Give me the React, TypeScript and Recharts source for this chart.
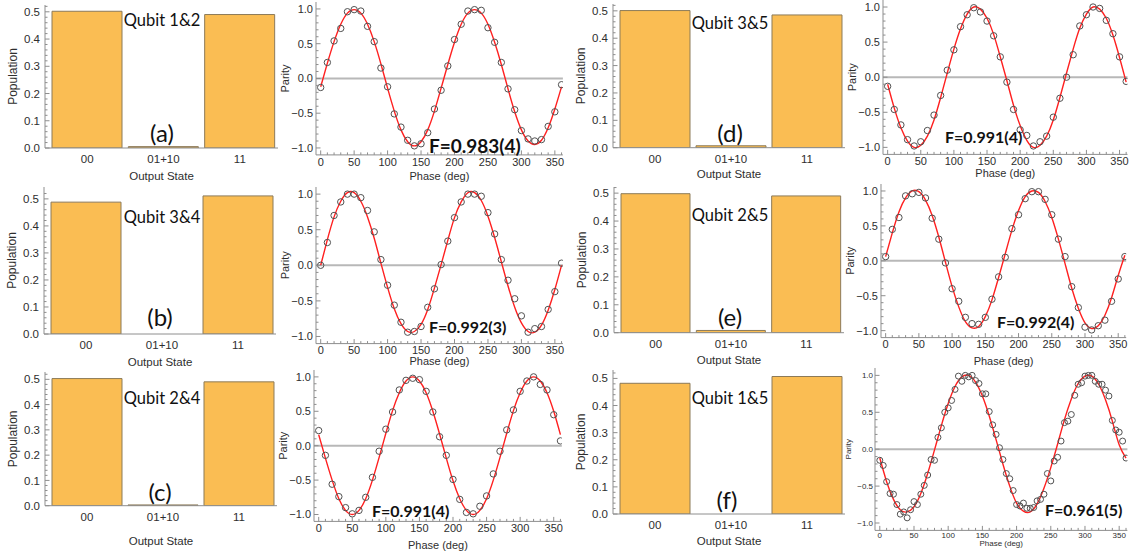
import React from 'react';
import { BarChart, Bar, ComposedChart, Line, Scatter, XAxis, YAxis, ReferenceLine } from 'recharts';

const AXIS_FONT = '"Liberation Sans", Arial, sans-serif';
const NOTE_FONT = 'Lato, "Open Sans", sans-serif';
const FRAME = '#8e8e8e';
const INK = '#2e2e2e';
const BAR_FILL = '#FABD53';
const BAR_EDGE = '#8c7a58';
const FIT_RED = '#ff2020';

// population bar charts
const STATES = ['00', '01+10', '11'];
const POP_A = [0.502, 0.005, 0.49];
const POP_B = [0.488, 0, 0.511];
const POP_C = [0.503, 0.003, 0.49];
const POP_D = [0.501, 0.007, 0.485];
const POP_E = [0.498, 0.008, 0.49];
const POP_F = [0.482, 0, 0.507];
const POP_TICKS = [0, 0.1, 0.2, 0.3, 0.4, 0.5];
const POP_MINOR = [0, 0.02, 0.04, 0.06, 0.08, 0.1, 0.12, 0.14, 0.16, 0.18, 0.2, 0.22, 0.24, 0.26, 0.28, 0.3,
  0.32, 0.34, 0.36, 0.38, 0.4, 0.42, 0.44, 0.46, 0.48, 0.5, 0.52];

// parity scans
const PHASE = [0, 10, 20, 30, 40, 50, 60, 70, 80, 90, 100, 110, 120, 130, 140, 150, 160, 170, 180,
  190, 200, 210, 220, 230, 240, 250, 260, 270, 280, 290, 300, 310, 320, 330, 340, 350, 360];
const PHASE_FINE = [0, 5, 10, 15, 20, 25, 30, 35, 40, 45, 50, 55, 60, 65, 70, 75, 80, 85, 90, 95,
  100, 105, 110, 115, 120, 125, 130, 135, 140, 145, 150, 155, 160, 165, 170, 175, 180, 185, 190, 195,
  200, 205, 210, 215, 220, 225, 230, 235, 240, 245, 250, 255, 260, 265, 270, 275, 280, 285, 290, 295,
  300, 305, 310, 315, 320, 325, 330, 335, 340, 345, 350, 355, 360];
const PHASE_TICKS = [0, 50, 100, 150, 200, 250, 300, 350];
const PARITY_TICKS = [-1, -0.5, 0, 0.5, 1];
const PARITY_MINOR = [-1, -0.9, -0.8, -0.7, -0.6, -0.5, -0.4, -0.3, -0.2, -0.1, 0, 0.1, 0.2, 0.3, 0.4, 0.5,
  0.6, 0.7, 0.8, 0.9, 1];

const PARITY_A = [-0.13, 0.23, 0.54, 0.72, 0.96, 0.99, 0.97, 0.75, 0.53, 0.15, -0.12, -0.51, -0.7, -0.89, -0.97, -0.94, -0.78, -0.44, -0.17,
  0.18, 0.56, 0.78, 0.97, 0.99, 0.98, 0.73, 0.52, 0.23, -0.15, -0.45, -0.75, -0.87, -0.9, -0.88, -0.69, -0.48, -0.09];
const FIT_A = [-0.12, 0.22, 0.53, 0.78, 0.94, 0.99, 0.94, 0.78, 0.53, 0.21, -0.14, -0.47, -0.74, -0.91, -0.97, -0.91, -0.74, -0.47, -0.14,
  0.2, 0.52, 0.78, 0.94, 0.99, 0.94, 0.78, 0.52, 0.2, -0.15, -0.48, -0.74, -0.9, -0.95, -0.89, -0.71, -0.44, -0.12];

const PARITY_B = [0, 0.32, 0.7, 0.89, 1.0, 1.0, 0.95, 0.77, 0.47, 0.08, -0.28, -0.56, -0.8, -0.94, -0.93, -0.86, -0.59, -0.33, 0.01,
  0.34, 0.67, 0.89, 1.0, 1.0, 0.97, 0.74, 0.44, 0.08, -0.21, -0.47, -0.71, -0.94, -0.89, -0.86, -0.62, -0.37, 0.03];
const FIT_B = [0, 0.36, 0.68, 0.9, 1.02, 1.02, 0.9, 0.68, 0.38, 0.03, -0.31, -0.61, -0.82, -0.93, -0.93, -0.83, -0.62, -0.32, 0.01,
  0.35, 0.67, 0.89, 1.02, 1.02, 0.91, 0.69, 0.39, 0.05, -0.29, -0.59, -0.81, -0.93, -0.94, -0.84, -0.63, -0.34, 0];

const PARITY_C = [0.22, -0.14, -0.56, -0.74, -0.9, -0.99, -0.94, -0.75, -0.46, -0.08, 0.24, 0.49, 0.81, 0.95, 0.98, 0.96, 0.79, 0.49, 0.13,
  -0.14, -0.49, -0.78, -0.97, -0.99, -0.88, -0.73, -0.41, -0.08, 0.23, 0.52, 0.79, 0.94, 1.0, 0.89, 0.81, 0.45, 0.07];
const FIT_C = [0.16, -0.18, -0.5, -0.77, -0.94, -1.0, -0.94, -0.77, -0.5, -0.17, 0.18, 0.51, 0.77, 0.94, 1.0, 0.94, 0.77, 0.5, 0.17,
  -0.18, -0.51, -0.77, -0.94, -1.0, -0.94, -0.77, -0.5, -0.17, 0.18, 0.51, 0.77, 0.94, 1.0, 0.94, 0.77, 0.5, 0.16];

const PARITY_D = [-0.13, -0.46, -0.68, -0.89, -0.98, -0.92, -0.76, -0.54, -0.26, 0.1, 0.39, 0.72, 0.89, 0.99, 0.93, 0.8, 0.59, 0.29, -0.07,
  -0.46, -0.75, -0.83, -0.98, -0.92, -0.84, -0.57, -0.3, 0, 0.32, 0.73, 0.89, 1.0, 0.98, 0.81, 0.62, 0.29, -0.06];
const FIT_D = [-0.1, -0.44, -0.72, -0.91, -1.0, -0.97, -0.84, -0.61, -0.29, 0.06, 0.4, 0.69, 0.9, 1.0, 0.97, 0.84, 0.61, 0.29, -0.05,
  -0.4, -0.69, -0.9, -1.0, -0.97, -0.84, -0.61, -0.29, 0.06, 0.4, 0.7, 0.9, 1.0, 0.97, 0.84, 0.6, 0.28, -0.07];

const PARITY_E = [0.06, 0.45, 0.62, 0.93, 0.96, 0.98, 0.9, 0.61, 0.31, -0.03, -0.4, -0.58, -0.81, -0.9, -0.91, -0.81, -0.55, -0.23, 0.05,
  0.46, 0.66, 0.89, 0.99, 0.99, 0.88, 0.66, 0.31, 0.06, -0.37, -0.67, -0.95, -0.99, -0.93, -0.85, -0.58, -0.26, 0.06];
const FIT_E = [0.06, 0.4, 0.7, 0.9, 1.0, 0.99, 0.87, 0.65, 0.34, -0.02, -0.37, -0.66, -0.87, -0.96, -0.94, -0.8, -0.56, -0.24, 0.1,
  0.44, 0.72, 0.92, 1.0, 0.98, 0.85, 0.62, 0.31, -0.04, -0.39, -0.68, -0.89, -0.97, -0.93, -0.78, -0.53, -0.21, 0.08];

const PARITY_F = [-0.15, -0.22, -0.44, -0.6, -0.61, -0.75, -0.88, -0.85, -0.93, -0.82,
  -0.71, -0.75, -0.61, -0.49, -0.35, -0.14, -0.15, 0.16, 0.29, 0.5,
  0.56, 0.66, 0.81, 0.99, 0.92, 1.0, 0.98, 1.0, 0.93, 0.89,
  0.75, 0.75, 0.51, 0.33, 0.2, 0.02, -0.14, -0.33, -0.4, -0.56,
  -0.75, -0.77, -0.73, -0.8, -0.8, -0.79, -0.7, -0.68, -0.61, -0.33,
  -0.43, -0.16, -0.11, 0.11, 0.36, 0.38, 0.47, 0.73, 0.88, 0.9,
  0.99, 1.0, 1.0, 0.92, 0.88, 0.88, 0.8, 0.72, 0.39, 0.26,
  0.23, 0.11, -0.12];
const FIT_F = [-0.12, -0.44, -0.68, -0.82, -0.85, -0.78, -0.6, -0.33, -0.01, 0.32, 0.62, 0.85, 0.98, 1.0, 0.91, 0.72, 0.45, 0.13, -0.2,
  -0.5, -0.73, -0.84, -0.85, -0.74, -0.53, -0.25, 0.07, 0.4, 0.68, 0.89, 0.99, 0.99, 0.88, 0.67, 0.38, 0.06, -0.12];

const fmtParity = (v: number) => (v < 0 ? '\u2212' : '') + Math.abs(v).toFixed(1);
const fmtPop = (v: number) => v.toFixed(1);
const fmtPhase = (v: number) => String(v);

type Side = 'bottom' | 'top' | 'left' | 'right';

// Mathematica-like frame ticks: inward marks, long for majors, short for minors, labels on majors only
const frameTick = (side: Side, major: number[], fmt: ((v: number) => string) | null, font: number, gap: number) =>
  (props: any) => {
    const { x, y, payload } = props;
    const v = payload.value;
    const isMajor = major.includes(v);
    const len = isMajor ? 4.5 : 2.5;
    let mark;
    let label = null;
    const textProps = { fontFamily: AXIS_FONT, fontSize: font, fill: INK };
    if (side === 'bottom') {
      mark = <line x1={x} y1={y} x2={x} y2={y - len} stroke={FRAME} />;
      if (isMajor && fmt) label = <text x={x} y={y + gap} dy="0.71em" textAnchor="middle" {...textProps}>{fmt(v)}</text>;
    } else if (side === 'top') {
      mark = <line x1={x} y1={y} x2={x} y2={y + len} stroke={FRAME} />;
    } else if (side === 'left') {
      mark = <line x1={x} y1={y} x2={x + len} y2={y} stroke={FRAME} />;
      if (isMajor && fmt) label = <text x={x - gap} y={y} dy="0.355em" textAnchor="end" {...textProps}>{fmt(v)}</text>;
    } else {
      mark = <line x1={x} y1={y} x2={x - len} y2={y} stroke={FRAME} />;
    }
    return <g>{mark}{label}</g>;
  };

type PopProps = {
  values: number[]; x1: number; x2: number; yTop: number; yBot: number; max: number;
  qubit: string; qx: number; qy: number; tag: string; tx: number; ty: number; titleOffset: number;
};

function PopPanel({ values, x1, x2, yTop, yBot, max, qubit, qx, qy, tag, tx, ty, titleOffset }: PopProps) {
  const YW = 45, MT = 2, MR = 3, XH = 46;
  const data = STATES.map((s, i) => ({ state: s, pop: values[i] }));
  const minor = POP_MINOR.filter((v) => v <= max);
  return (
    <>
      <div style={{ position: 'absolute', left: x1 - YW, top: yTop - MT }}>
        <BarChart width={YW + (x2 - x1) + MR} height={MT + (yBot - yTop) + XH} data={data}
          margin={{ top: MT, right: MR, left: 0, bottom: 0 }} barCategoryGap={3}>
          <XAxis dataKey="state" height={XH} padding={{ left: 4, right: 0 }} stroke={FRAME}
            tickLine={false} tickSize={0} tickMargin={7} tick={{ fontFamily: AXIS_FONT, fontSize: 11.5, fill: INK }}
            label={{ value: 'Output State', position: 'insideBottom', offset: titleOffset + 6,
              style: { fontFamily: AXIS_FONT, fontSize: 11.5, fill: INK } }} />
          <XAxis xAxisId="top" dataKey="state" orientation="top" height={0} stroke={FRAME}
            tick={false} tickLine={false} />
          <YAxis domain={[0, max]} ticks={minor} interval={0} allowDataOverflow width={YW} stroke={FRAME}
            tickLine={false} tickSize={0} tickMargin={0} tick={frameTick('left', POP_TICKS, fmtPop, 11.5, 5)}
            label={{ value: 'Population', angle: -90, position: 'insideLeft', offset: 13,
              style: { textAnchor: 'middle', fontFamily: AXIS_FONT, fontSize: 12, fill: INK } }} />
          <YAxis yAxisId="right" orientation="right" domain={[0, max]} ticks={minor} interval={0} allowDataOverflow
            width={0} stroke={FRAME} tickLine={false} tickSize={0} tickMargin={0}
            tick={frameTick('right', POP_TICKS, null, 11, 0)} />
          <Bar dataKey="pop" fill={BAR_FILL} stroke={BAR_EDGE} strokeWidth={1} isAnimationActive={false} />
        </BarChart>
      </div>
      <div style={{ position: 'absolute', left: qx, top: qy, transform: 'translate(-50%,-50%)',
        fontFamily: NOTE_FONT, fontSize: 16.5, lineHeight: 1, whiteSpace: 'nowrap', color: '#111' }}>{qubit}</div>
      <div style={{ position: 'absolute', left: tx, top: ty, transform: 'translate(-50%,-50%)',
        fontFamily: NOTE_FONT, fontSize: 24, lineHeight: 1, whiteSpace: 'nowrap', color: '#111' }}>{tag}</div>
    </>
  );
}

type ParityProps = {
  phase: number[]; points: number[]; fit: number[]; x1: number; x2: number; yTop: number; yBot: number;
  fText: string; fx: number; fy: number; fSize: number; titleOffset: number; small?: boolean;
};

function ParityPanel({ phase, points, fit, x1, x2, yTop, yBot, fText, fx, fy, fSize, titleOffset, small }: ParityProps) {
  const YW = 40, MT = 2, MR = 2, XH = 30;
  const pts = phase.map((p, i) => ({ phase: p, v: points[i] }));
  const fitRows = PHASE.map((p, i) => ({ phase: p, v: fit[i] }));
  const tickFont = small ? 8 : 11;
  const labelFont = small ? 8 : 11;
  const xDom: [number, number] = [-7, 362];
  const yDom: [number, number] = [-1.1, 1.1];
  return (
    <>
      <div style={{ position: 'absolute', left: x1 - YW, top: yTop - MT }}>
        <ComposedChart width={YW + (x2 - x1) + MR} height={MT + (yBot - yTop) + XH}
          margin={{ top: MT, right: MR, left: 0, bottom: 0 }}>
          <XAxis dataKey="phase" type="number" domain={xDom} ticks={PHASE} interval={0} allowDataOverflow height={XH}
            stroke={FRAME} tickLine={false} tickSize={0} tickMargin={0}
            tick={frameTick('bottom', PHASE_TICKS, fmtPhase, tickFont, small ? 2 : 3)}
            label={{ value: 'Phase (deg)', position: 'insideBottom', offset: titleOffset,
              style: { fontFamily: AXIS_FONT, fontSize: labelFont, fill: INK } }} />
          <XAxis xAxisId="top" dataKey="phase" type="number" orientation="top" domain={xDom} ticks={PHASE} interval={0}
            allowDataOverflow height={0} stroke={FRAME} tickLine={false} tickSize={0} tickMargin={0}
            tick={frameTick('top', PHASE_TICKS, null, tickFont, 0)} />
          <YAxis type="number" domain={yDom} ticks={PARITY_MINOR} interval={0} allowDataOverflow width={YW} stroke={FRAME}
            tickLine={false} tickSize={0} tickMargin={0}
            tick={frameTick('left', PARITY_TICKS, fmtParity, tickFont, small ? 2 : 3)}
            label={{ value: 'Parity', angle: -90, position: 'insideLeft', offset: small ? 13 : 9.5,
              style: { textAnchor: 'middle', fontFamily: AXIS_FONT, fontSize: labelFont, fill: INK } }} />
          <YAxis yAxisId="right" type="number" orientation="right" domain={yDom} ticks={PARITY_MINOR} interval={0}
            allowDataOverflow width={0} stroke={FRAME} tickLine={false} tickSize={0} tickMargin={0}
            tick={frameTick('right', PARITY_TICKS, null, tickFont, 0)} />
          <ReferenceLine y={0} stroke="#b8b8b8" strokeWidth={2} />
          <Line data={fitRows} dataKey="v" type="natural" stroke={FIT_RED} strokeWidth={1.4} dot={false}
            isAnimationActive={false} />
          <Scatter data={pts} dataKey="v" isAnimationActive={false}
            shape={(p: any) => <circle cx={p.cx} cy={p.cy} r={small ? 3 : 3.2} fill="none" stroke="#505050" strokeWidth={1} />} />
        </ComposedChart>
      </div>
      <div style={{ position: 'absolute', left: fx, top: fy, transform: 'translateY(-50%)',
        fontFamily: NOTE_FONT, fontWeight: 700, fontSize: fSize, lineHeight: 1, whiteSpace: 'nowrap', color: '#111' }}>{fText}</div>
    </>
  );
}

export default function App() {
  return (
    <div style={{ position: 'absolute', left: 0, top: 0, width: 1130, height: 554, overflow: 'hidden', background: '#fff' }}>
      <PopPanel values={POP_A} x1={45} x2={278} yTop={5} yBot={148} max={0.525}
        qubit="Qubit 1&2" qx={162} qy={20} tag="(a)" tx={162} ty={133} titleOffset={8} />
      <PopPanel values={POP_B} x1={44} x2={276} yTop={187} yBot={334} max={0.544}
        qubit="Qubit 3&4" qx={162} qy={217} tag="(b)" tx={160} ty={317} titleOffset={8.3} />
      <PopPanel values={POP_C} x1={45} x2={277} yTop={372} yBot={505.7} max={0.529}
        qubit="Qubit 2&4" qx={162} qy={398} tag="(c)" tx={160} ty={492} titleOffset={1} />
      <PopPanel values={POP_D} x1={613} x2={845} yTop={4} yBot={147.7} max={0.525}
        qubit="Qubit 3&5" qx={730} qy={23} tag="(d)" tx={730} ty={133} titleOffset={9.4} />
      <PopPanel values={POP_E} x1={614} x2={844} yTop={187} yBot={332.7} max={0.522}
        qubit="Qubit 2&5" qx={730} qy={215} tag="(e)" tx={730} ty={317} titleOffset={8.7} />
      <PopPanel values={POP_F} x1={613} x2={845} yTop={370} yBot={514} max={0.531}
        qubit="Qubit 1&5" qx={730} qy={398} tag="(f)" tx={727} ty={500} titleOffset={9.3} />

      <ParityPanel phase={PHASE} points={PARITY_A} fit={FIT_A} x1={316} x2={562.9} yTop={2.35} yBot={155.25}
        fText="F=0.983(4)" fx={429} fy={145} fSize={19} titleOffset={4.75} />
      <ParityPanel phase={PHASE} points={PARITY_B} fit={FIT_B} x1={316} x2={562.9} yTop={187.2} yBot={343.8}
        fText="F=0.992(3)" fx={429} fy={327} fSize={16} titleOffset={8.3} />
      <ParityPanel phase={PHASE} points={PARITY_C} fit={FIT_C} x1={313.6} x2={561.4} yTop={369.8} yBot={521.2}
        fText="F=0.991(4)" fx={372} fy={511} fSize={16} titleOffset={2.4} />
      <ParityPanel phase={PHASE} points={PARITY_D} fit={FIT_D} x1={883} x2={1127.5} yTop={0.3} yBot={154.7}
        fText="F=0.991(4)" fx={945} fy={137} fSize={16} titleOffset={7.6} />
      <ParityPanel phase={PHASE} points={PARITY_E} fit={FIT_E} x1={881.3} x2={1126.5} yTop={184} yBot={337.6}
        fText="F=0.992(4)" fx={997} fy={322} fSize={16} titleOffset={2.8} />
      <ParityPanel phase={PHASE_FINE} points={PARITY_F} fit={FIT_F} x1={875.2} x2={1127.6} yTop={367.6} yBot={530}
        fText="F=0.961(5)" fx={1045} fy={510} fSize={16} titleOffset={14} small />
    </div>
  );
}
